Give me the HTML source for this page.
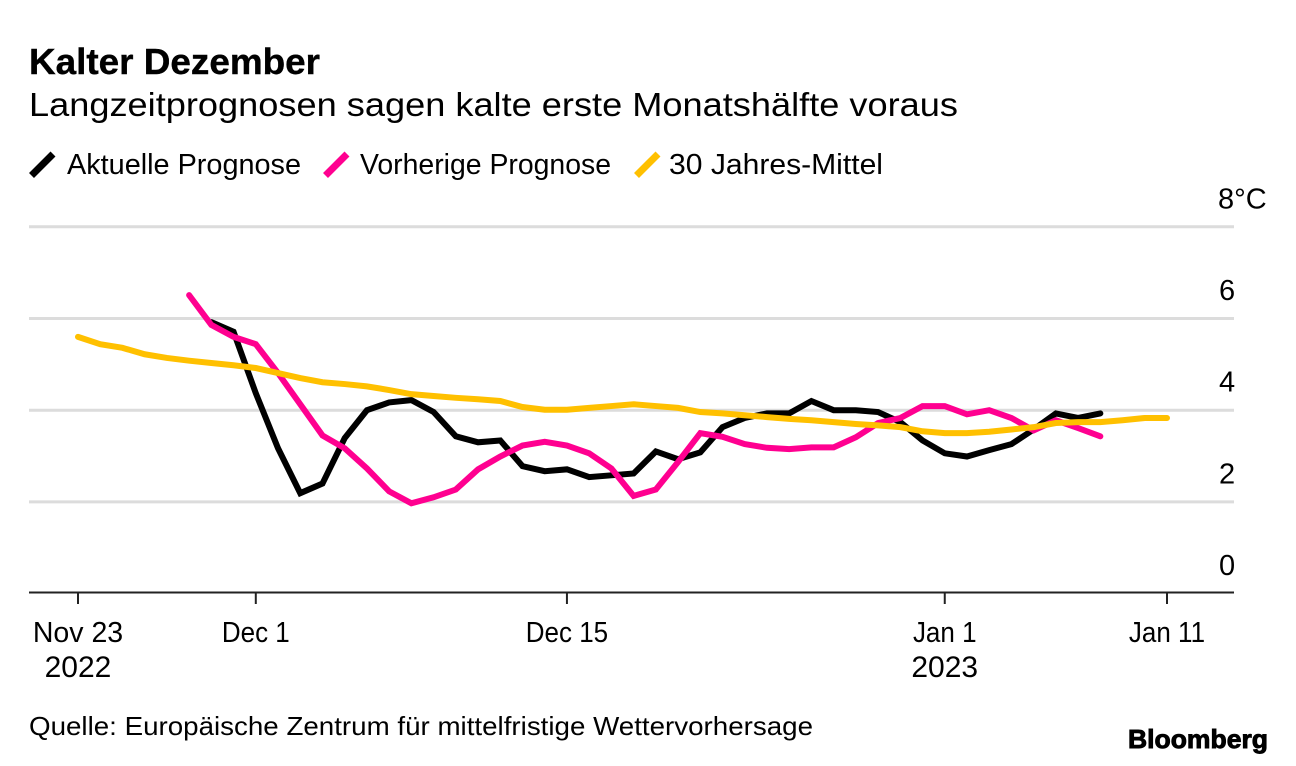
<!DOCTYPE html>
<html lang="de">
<head>
<meta charset="utf-8">
<title>Kalter Dezember</title>
<style>
html,body{margin:0;padding:0;background:#fff;width:1296px;height:766px;overflow:hidden}
svg{display:block}
text{font-family:"Liberation Sans",Arial,sans-serif;fill:#000}
</style>
</head>
<body>
<svg id="chart" xmlns="http://www.w3.org/2000/svg" width="1296" height="766" viewBox="0 0 1296 766">
  <rect x="0" y="0" width="1296" height="766" fill="#fff"/>
  <text x="29" y="74" font-size="36" font-weight="700" stroke="#000" stroke-width="0.4" textLength="291" lengthAdjust="spacingAndGlyphs">Kalter Dezember</text>
  <text x="29" y="116" font-size="33.5" textLength="929" lengthAdjust="spacingAndGlyphs">Langzeitprognosen sagen kalte erste Monatshälfte voraus</text>

  <g>
    <g>
      <line x1="31.5" y1="175.5" x2="53" y2="154" stroke="#000" stroke-width="7"/>
      <text x="67" y="174" font-size="28.5" textLength="234" lengthAdjust="spacingAndGlyphs">Aktuelle Prognose</text>
    </g>
    <g>
      <line x1="325.5" y1="175.5" x2="347" y2="154" stroke="#ff0090" stroke-width="7"/>
      <text x="360" y="174" font-size="28.5" textLength="251" lengthAdjust="spacingAndGlyphs">Vorherige Prognose</text>
    </g>
    <g>
      <line x1="636.5" y1="175.5" x2="658" y2="154" stroke="#ffc000" stroke-width="7"/>
      <text x="669" y="174" font-size="28.5" textLength="214" lengthAdjust="spacingAndGlyphs">30 Jahres-Mittel</text>
    </g>
  </g>

  <g id="grid"></g>
  <g id="yLabels"></g>
  <g id="xAxis"></g>
  <g id="series"></g>

  <text x="29" y="735" font-size="26" textLength="784" lengthAdjust="spacingAndGlyphs">Quelle: Europäische Zentrum für mittelfristige Wettervorhersage</text>
  <text x="1128" y="748" font-size="26" font-weight="700" stroke="#000" stroke-width="0.9" textLength="140" lengthAdjust="spacingAndGlyphs">Bloomberg</text>
</svg>
<script>
// Day offsets are counted from Nov 23 2022.
const yTickValues = [0, 2, 4, 6, 8];
const yTickLabels = ["0", "2", "4", "6", "8°C"];
const xTickDays = [0, 8, 22, 39, 49];
const xTickLine1 = ["Nov 23", "Dec 1", "Dec 15", "Jan 1", "Jan 11"];
const xTickLine2 = ["2022", "", "", "2023", ""];

const aktuelleStartDay = 6;
const aktuelleValues = [5.92,5.71,4.37,3.17,2.19,2.40,3.39,4.00,4.17,4.22,3.96,3.43,3.30,3.34,2.78,2.67,2.71,2.54,2.58,2.62,3.10,2.93,3.08,3.63,3.83,3.93,3.93,4.20,4.00,4.00,3.96,3.74,3.34,3.06,2.99,3.13,3.26,3.58,3.93,3.83,3.93];

const vorherigeStartDay = 5;
const vorherigeValues = [6.51,5.86,5.60,5.44,4.81,4.13,3.45,3.17,2.73,2.23,1.97,2.10,2.27,2.71,2.99,3.23,3.31,3.23,3.06,2.73,2.13,2.27,2.87,3.50,3.42,3.26,3.18,3.15,3.19,3.19,3.41,3.72,3.83,4.09,4.09,3.91,4.00,3.83,3.56,3.78,3.61,3.43];

const mittelStartDay = 0;
const mittelValues = [5.60,5.44,5.36,5.22,5.14,5.08,5.03,4.98,4.92,4.81,4.70,4.61,4.57,4.52,4.44,4.35,4.31,4.27,4.24,4.20,4.07,4.01,4.01,4.05,4.09,4.13,4.09,4.05,3.96,3.93,3.89,3.85,3.81,3.78,3.74,3.70,3.67,3.63,3.54,3.50,3.50,3.53,3.58,3.63,3.72,3.74,3.74,3.78,3.83,3.83];

const SVG_NS = "http://www.w3.org/2000/svg";
function xScale(day) { return 78 + day * (1167 - 78) / 49; }
function yScale(value) { return 593.6 - value * 45.85; }

function make(tag, attrs, parent, txt) {
  const el = document.createElementNS(SVG_NS, tag);
  for (const k in attrs) el.setAttribute(k, attrs[k]);
  if (txt !== undefined) el.textContent = txt;
  parent.appendChild(el);
  return el;
}

const gridG = document.getElementById("grid");
const yLabelG = document.getElementById("yLabels");
yTickValues.forEach(function (v, i) {
  if (v !== 0) {
    const gl = make("line", {x1: 29, x2: 1234, y1: yScale(v), y2: yScale(v), stroke: "#dcdcdc", "stroke-width": 3}, gridG);
    
    
  }
  const isTop = i === yTickValues.length - 1;
  const lab = make("text", {x: isTop ? 1218 : 1219, y: yScale(v) - 18.5, "font-size": 29}, yLabelG, yTickLabels[i]);
  
  
});

const xG = document.getElementById("xAxis");
const axisLine = make("line", {x1: 29, x2: 1234, y1: 592.5, y2: 592.5, stroke: "#222", "stroke-width": 2}, xG);


xTickDays.forEach(function (d, i) {
  const px = xScale(d);
  const tick = make("line", {x1: px, x2: px, y1: 592.5, y2: 604, stroke: "#222", "stroke-width": 2}, xG);
  
  
  const l1 = make("text", {x: px, y: 642, "font-size": 26, "text-anchor": "middle"}, xG, xTickLine1[i]);
  
  
  if (i !== 0) {
    // Same width as the 26px setting, taller glyphs to match the reference face.
    const naturalWidth = l1.getComputedTextLength();
    l1.setAttribute("font-size", 28.5);
    l1.setAttribute("textLength", naturalWidth);
    l1.setAttribute("lengthAdjust", "spacingAndGlyphs");
  } else {
    l1.setAttribute("font-size", 28.5);
  }
  if (xTickLine2[i]) {
    const l2 = make("text", {x: px, y: 677, "font-size": 30, "text-anchor": "middle"}, xG, xTickLine2[i]);
    
    
  }
});

function linePath(startDay, values) {
  return values.map(function (v, i) {
    return (i ? "L" : "M") + xScale(startDay + i).toFixed(2) + " " + yScale(v).toFixed(2);
  }).join(" ");
}
const seriesG = document.getElementById("series");
const lineStyle = {fill: "none", "stroke-width": 6, "stroke-linejoin": "miter", "stroke-linecap": "round"};

const lineAktuelle = make("path", Object.assign({d: linePath(aktuelleStartDay, aktuelleValues), stroke: "#000"}, lineStyle), seriesG);



const lineVorherige = make("path", Object.assign({d: linePath(vorherigeStartDay, vorherigeValues), stroke: "#ff0090"}, lineStyle), seriesG);



const lineMittel = make("path", Object.assign({d: linePath(mittelStartDay, mittelValues), stroke: "#ffc000"}, lineStyle), seriesG);


</script>
</body>
</html>
